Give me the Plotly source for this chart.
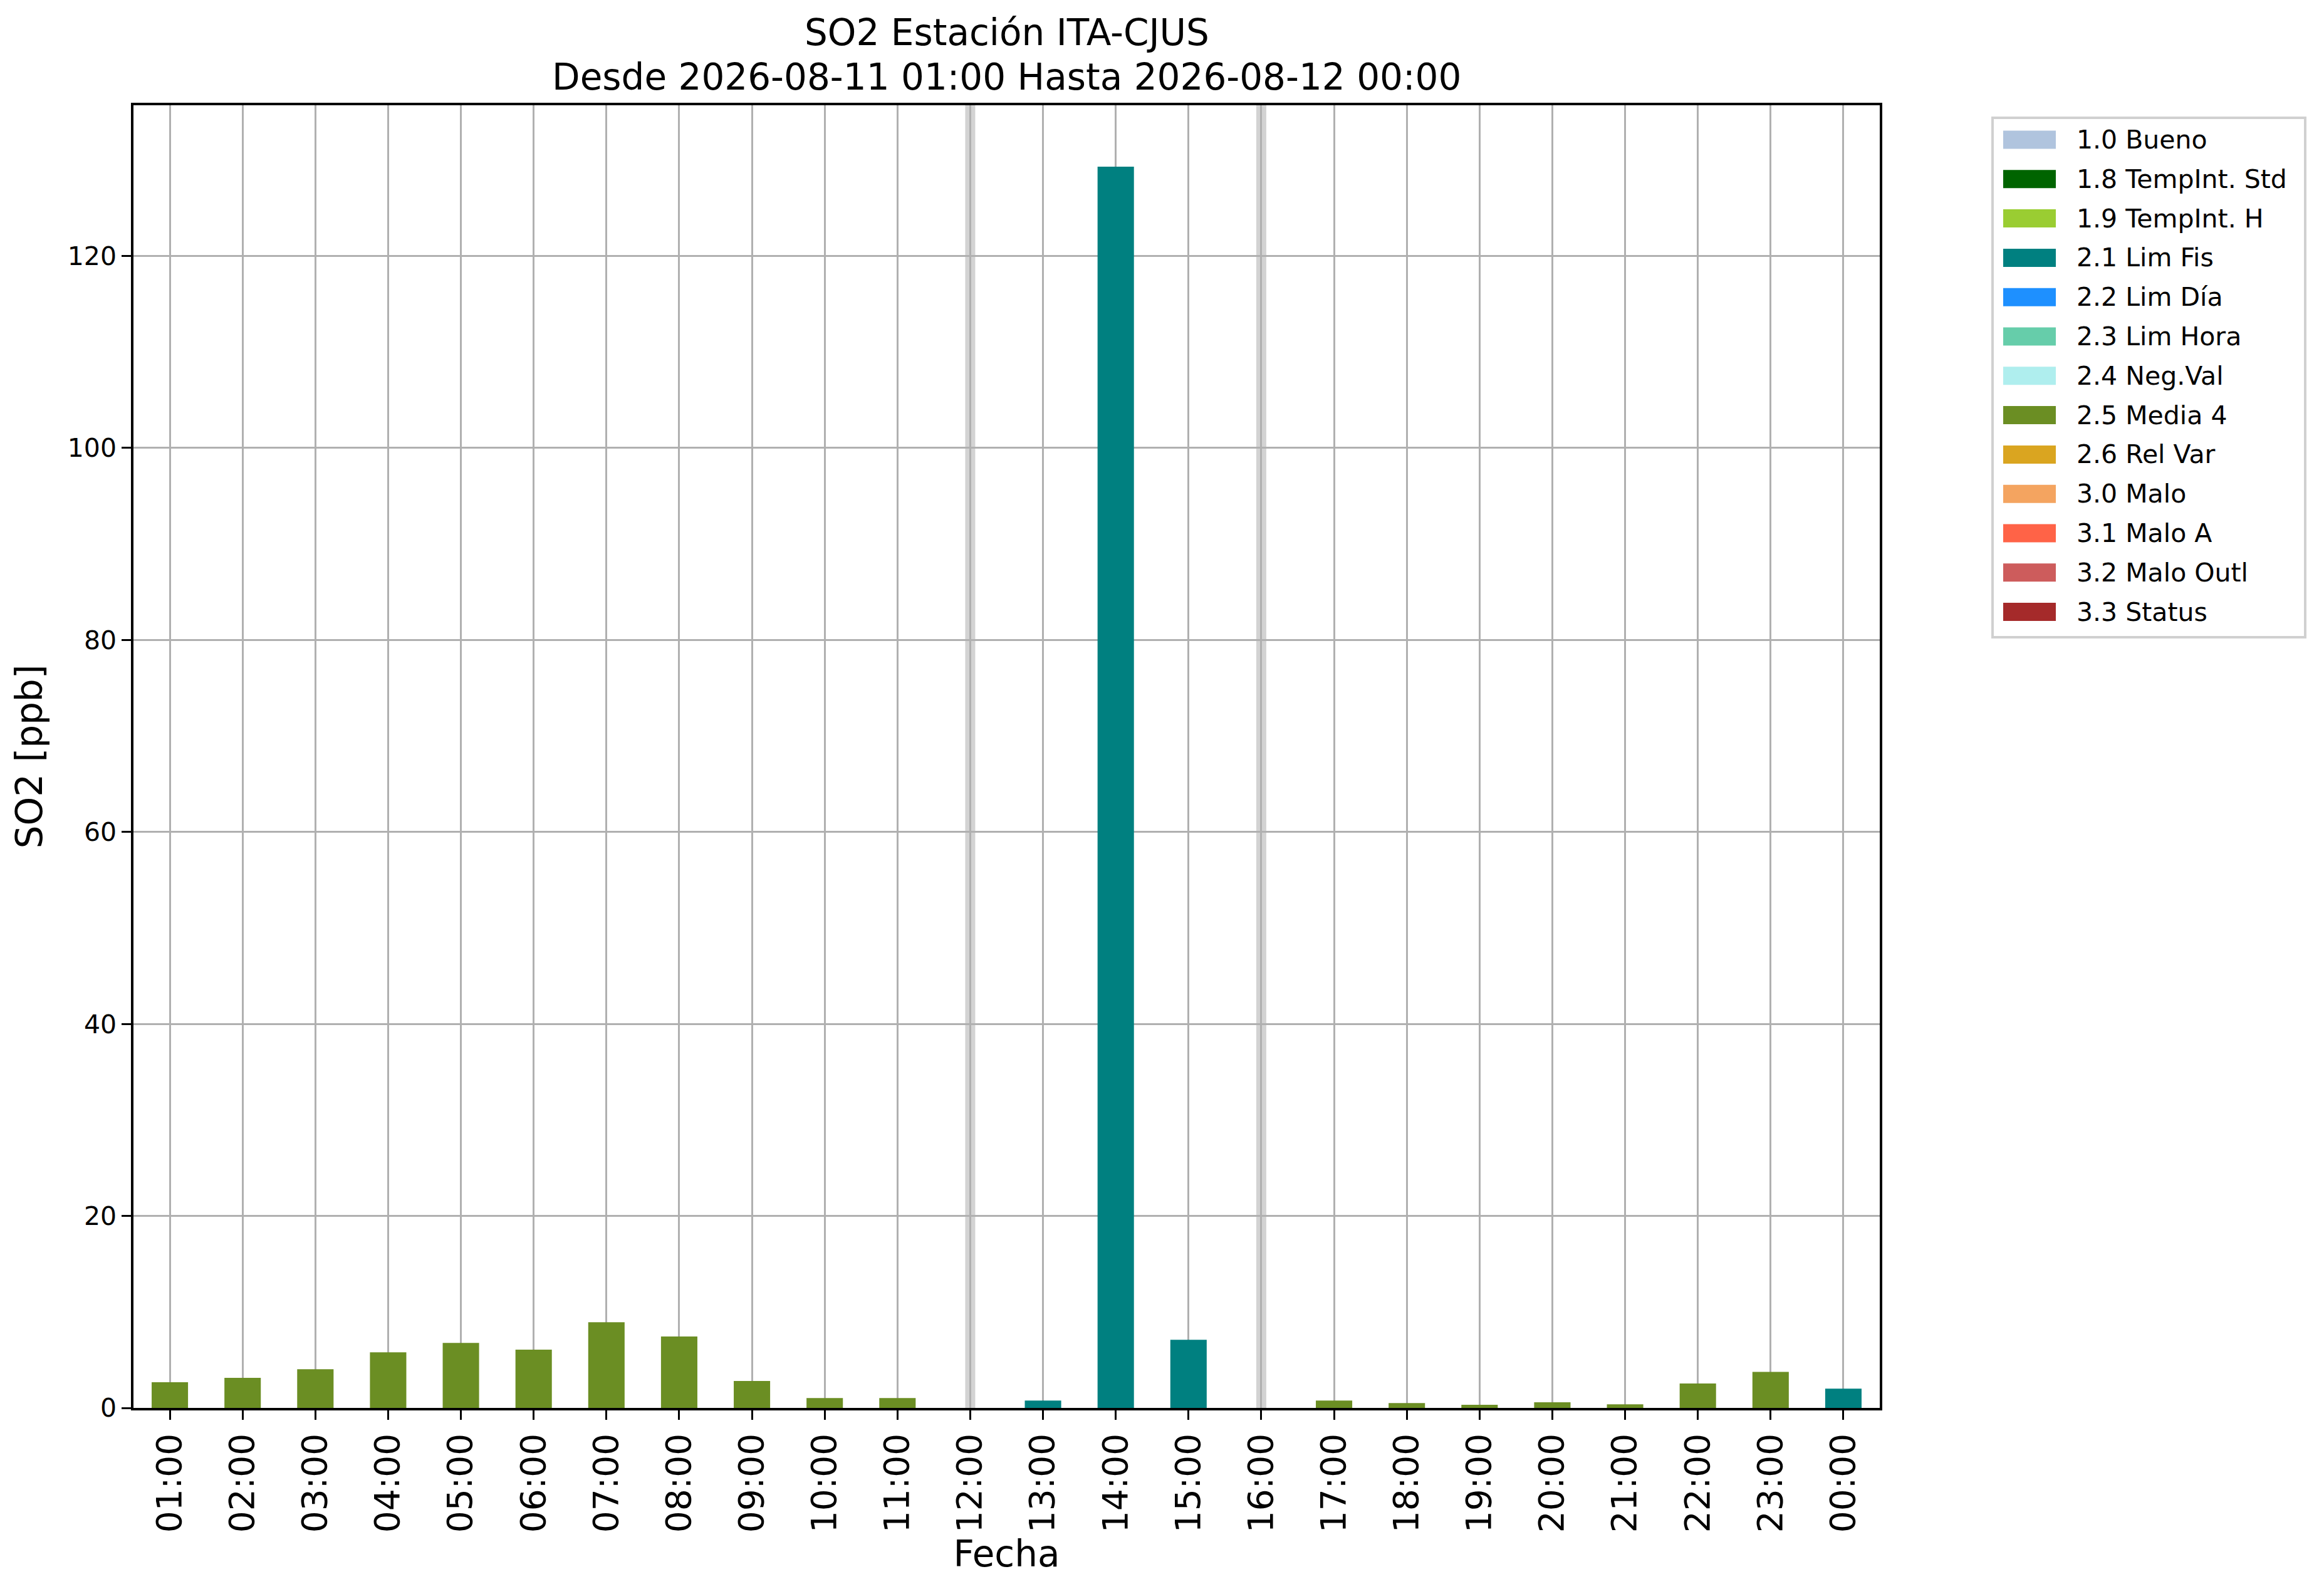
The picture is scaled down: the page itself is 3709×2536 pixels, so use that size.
import plotly.graph_objects as go

# Datos horarios SO2 (ppb) y bandera de validación por hora
horas = ["01:00", "02:00", "03:00", "04:00", "05:00", "06:00", "07:00", "08:00",
         "09:00", "10:00", "11:00", "12:00", "13:00", "14:00", "15:00", "16:00",
         "17:00", "18:00", "19:00", "20:00", "21:00", "22:00", "23:00", "00:00"]
so2 = [2.68, 3.13, 4.03, 5.80, 6.78, 6.07, 8.93, 7.44, 2.81, 1.03, 1.03, None,
       0.77, 129.3, 7.10, None, 0.77, 0.50, 0.32, 0.58, 0.37, 2.54, 3.76, 2.01]
banderas = ["2.5", "2.5", "2.5", "2.5", "2.5", "2.5", "2.5", "2.5", "2.5", "2.5",
            "2.5", None, "2.1", "2.1", "2.1", None, "2.5", "2.5", "2.5", "2.5",
            "2.5", "2.5", "2.5", "2.1"]

# Leyenda de banderas
codigos = ["1.0", "1.8", "1.9", "2.1", "2.2", "2.3", "2.4", "2.5", "2.6",
           "3.0", "3.1", "3.2", "3.3"]
etiquetas = ["1.0 Bueno", "1.8 TempInt. Std", "1.9 TempInt. H", "2.1 Lim Fis",
             "2.2 Lim Día", "2.3 Lim Hora", "2.4 Neg.Val", "2.5 Media 4",
             "2.6 Rel Var", "3.0 Malo", "3.1 Malo A", "3.2 Malo Outl", "3.3 Status"]
colores = ["#b0c4de", "#006400", "#9acd32", "#008080", "#1e90ff", "#66cdaa",
           "#afeeee", "#6b8e23", "#daa520", "#f4a460", "#ff6347", "#cd5c5c",
           "#a52a2a"]

titulo = ["SO2 Estación ITA-CJUS", "Desde 2026-08-11 01:00 Hasta 2026-08-12 00:00"]

# la página html añade 8 px de margen al body
OFF = 8
W, H = 3709, 2536
L, R, T, B = 213 - OFF, 3000 - OFF, 168 - OFF, 2247 - OFF
FUENTE = "DejaVu Sans"

color_de = dict(zip(codigos, colores))
colores_barras = [color_de.get(b, "rgba(0,0,0,0)") for b in banderas]

fig = go.Figure()
fig.add_trace(go.Bar(x=horas, y=so2, width=0.5, marker=dict(color=colores_barras, line=dict(width=0)),
                     showlegend=False))

# Horas sin dato: línea gris
for i, v in enumerate(so2):
    if v is None:
        fig.add_shape(type="line", x0=i, x1=i, y0=0, y1=1, xref="x", yref="y domain",
                      line=dict(color="#d3d3d3", width=16), layer="below")


def px_x(p):
    return (p - OFF - L) / (R - L)


def px_y(p):
    return (B - (p - OFF)) / (B - T)


# Título en dos líneas
for k, linea in enumerate(titulo):
    fig.add_annotation(x=0.5, y=px_y(52 + k * 71), xref="paper", yref="paper",
                       text=linea, showarrow=False, xanchor="center", yanchor="middle",
                       font=dict(family=FUENTE, size=58, color="black"))

# Leyenda dibujada a mano (parches rectangulares como en matplotlib)
fig.add_shape(type="rect", xref="paper", yref="paper",
              x0=px_x(3180), x1=px_x(3679), y0=px_y(1017), y1=px_y(188),
              line=dict(color="#d0d0d0", width=4), fillcolor="white")
for k, (lab, col) in enumerate(zip(etiquetas, colores)):
    yc = 223 + k * 62.8
    fig.add_shape(type="rect", xref="paper", yref="paper",
                  x0=px_x(3197), x1=px_x(3281), y0=px_y(yc + 14.5), y1=px_y(yc - 14.5),
                  line=dict(width=0), fillcolor=col)
    fig.add_annotation(x=px_x(3312), y=px_y(yc), xref="paper", yref="paper",
                       text=lab, showarrow=False, xanchor="left", yanchor="middle",
                       font=dict(family=FUENTE, size=41, color="black"))

fig.update_layout(
    width=W, height=H, autosize=False,
    margin=dict(l=L, r=W - R, t=T, b=H - B, pad=0),
    paper_bgcolor="white", plot_bgcolor="white",
    font=dict(family=FUENTE, color="black"),
    bargap=0.5,
)
fig.update_xaxes(
    type="category", range=[-0.5, 23.5], tickangle=-90,
    tickfont=dict(size=55), ticks="outside", ticklen=15, tickwidth=3, tickcolor="black",
    showgrid=True, gridcolor="#b0b0b0", gridwidth=3,
    showline=True, linecolor="black", linewidth=3.5, mirror=True,
    title=dict(text="Fecha", font=dict(size=58), standoff=14),
)
fig.update_yaxes(
    range=[0, 135.7], tickvals=[0, 20, 40, 60, 80, 100, 120],
    tickfont=dict(size=41), ticks="outside", ticklen=15, tickwidth=3, tickcolor="black",
    showgrid=True, gridcolor="#b0b0b0", gridwidth=3, zeroline=False,
    showline=True, linecolor="black", linewidth=3.5, mirror=True,
    title=dict(text="SO2 [ppb]", font=dict(size=58), standoff=22),
)

fig.write_html("out.html")
